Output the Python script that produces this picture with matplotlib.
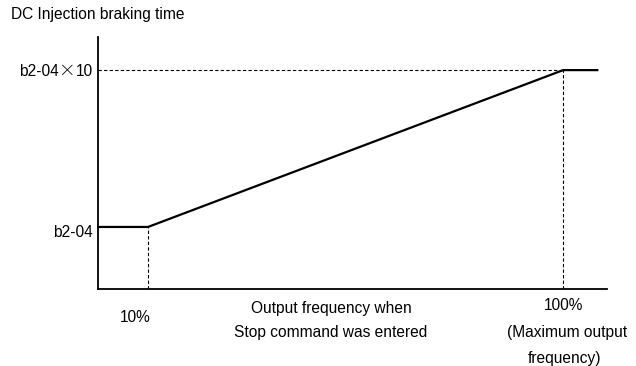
import matplotlib
matplotlib.use("Agg")
import matplotlib.pyplot as plt

plt.rcParams['font.family'] = ['Liberation Sans', 'DejaVu Sans']

# Output frequency (% of maximum) and braking time (multiples of b2-04)
freq_pct = [-0.8, 10, 100, 107.4]
brake_time = [1, 1, 10, 10]
y_tick_values = [1, 10]

W, H = 636, 366
fig = plt.figure(figsize=(W / 100, H / 100), dpi=100)
ax = fig.add_axes([98 / W, (H - 289) / H, (607 - 98) / W, (289 - 37) / H])
ax.set_xlim(-0.84, 109.5)
ax.set_ylim(-2.56, 11.9)

for s in ("top", "right"):
    ax.spines[s].set_visible(False)
for s in ("left", "bottom"):
    ax.spines[s].set_linewidth(1.3)
    ax.spines[s].set_color("black")
ax.set_xticks([])
ax.set_yticks([])

dash = (0, (3, 2))
# guide lines
ax.plot([ax.get_xlim()[0], freq_pct[2]], [brake_time[2]] * 2, color="black", lw=0.8, linestyle=dash)
ax.plot([freq_pct[1]] * 2, [ax.get_ylim()[0], brake_time[1]], color="black", lw=0.8, linestyle=dash)
ax.plot([freq_pct[2]] * 2, [ax.get_ylim()[0], brake_time[2]], color="black", lw=0.8, linestyle=dash)

# braking time curve
ax.plot(freq_pct, brake_time, color="black", lw=1.6, solid_joinstyle="miter", clip_on=False)

fs = 11.2


def px(x, y):
    return x / W, 1 - y / H


def y_px(v):
    return ax.transData.transform((0, v))[1]


fig.canvas.draw()
# y labels
y1 = H - y_px(y_tick_values[0]) + 6
fig.text(*px(93, y1), "b2-04", ha="right", va="center", fontsize=fs)
y10 = H - y_px(y_tick_values[1]) + 1
fig.text(*px(93, y10), "10", ha="right", va="center", fontsize=fs)
fig.text(*px(67, y10), "\u00d7", ha="center", va="center", fontsize=12,
         family=["Noto Sans CJK JP", "DejaVu Sans"], fontweight="light")
fig.text(*px(58.5, y10), "b2-04", ha="right", va="center", fontsize=fs)

fig.text(*px(11, 15), "DC Injection braking time", ha="left", va="center", fontsize=fs)
fig.text(*px(135, 318), "10%", ha="center", va="center", fontsize=fs)
fig.text(*px(331, 308), "Output frequency when", ha="center", va="center", fontsize=fs)
fig.text(*px(331, 333), "Stop command was entered", ha="center", va="center", fontsize=fs)
fig.text(*px(564, 306), "100%", ha="center", va="center", fontsize=fs)
fig.text(*px(567, 333), "(Maximum output", ha="center", va="center", fontsize=fs)
fig.text(*px(564, 359), "frequency)", ha="center", va="center", fontsize=fs)

fig.savefig("out.png", dpi=100)
